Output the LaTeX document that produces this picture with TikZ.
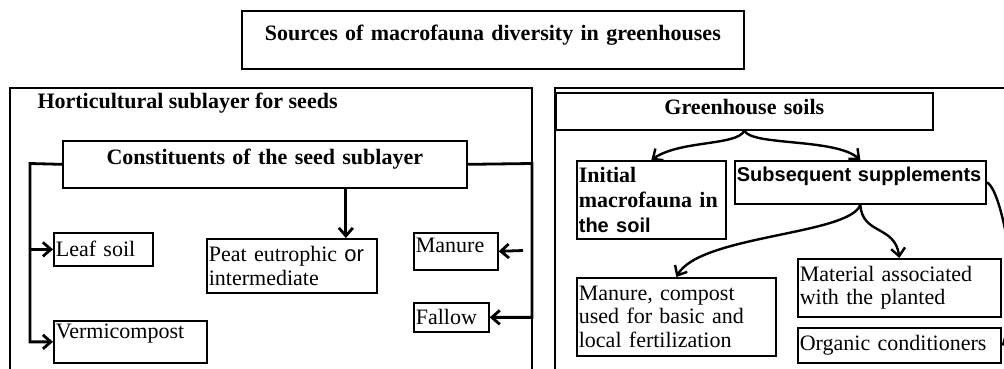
\documentclass[tikz,border=0pt]{standalone}
\usepackage{fontspec}
\setmainfont{Liberation Serif}
\setsansfont{Liberation Sans}
\usetikzlibrary{arrows.meta}
\tikzset{
  box/.style={draw, line width=1.7pt, anchor=north west, inner xsep=2pt, inner ysep=1pt, align=left, font=\fontsize{22}{23.5}\selectfont},
  headbox/.style={box, align=center, font=\fontsize{22}{25}\selectfont\bfseries},
  conn/.style={line width=2.8pt, ->},
  wave/.style={line width=2.4pt, ->},
  panel/.style={line width=1.7pt},
  >={Straight Barb[length=8pt,width=14pt]}
}
\begin{document}
\begin{tikzpicture}[x=1pt,y=-1pt]
\clip (0,0) rectangle (1004,369);
\node[headbox, text width=498pt, minimum height=58, text depth=14pt] (title) at (241,10) {Sources of macrofauna diversity in greenhouses};
\draw[panel] (10,375) -- (10,88) -- (532,88) -- (532,375);
\draw[panel] (555,375) -- (555,88) -- (1010,88);
\node[anchor=west, font=\fontsize{22}{25}\selectfont\bfseries] (hort) at (34,103) {Horticultural sublayer for seeds};
\node[headbox, text width=400pt, minimum height=47, text depth=15pt] (constit) at (62,140) {Constituents of the seed sublayer};
\node[box, text width=95pt, minimum height=33] (leaf) at (53,232) {Leaf soil};
\node[box, text width=166pt, minimum height=54] (peat) at (206,238) {Peat eutrophic {\sffamily or}\\intermediate};
\node[box, text width=80pt, minimum height=37, text depth=13pt] (manure) at (413,232) {Manure};
\node[box, text width=71pt, minimum height=29] (fallow) at (413,302) {Fallow};
\node[box, text width=149pt, minimum height=42, text depth=22pt] (vermi) at (53,320) {Vermicompost};
\coordinate (lbar) at (30,163.5);
\draw[conn] (constit.west) -- (lbar) |- (vermi.west);
\draw[conn] (lbar |- leaf.west) -- (leaf.west);
\coordinate (rbar) at (532,163.5);
\draw[conn] (constit.east) -- (rbar) |- (fallow.east);
\coordinate (mstub) at (523,250.5);
\draw[conn] (mstub) -- (manure.east);
\draw[conn] ([xshift=81pt]constit.south) -- ([xshift=54pt]peat.north);
\node[headbox, text width=373pt, minimum height=37, text depth=9pt] (soils) at (555,92) {Greenhouse soils};
\node[box, text width=145pt, minimum height=78, font=\fontsize{22}{25}\selectfont\bfseries] (initial) at (576,160) {Initial\\macrofauna in\\{\sffamily\fontsize{20}{25}\selectfont the soil}};
\node[box, text width=247pt, minimum height=43, text depth=17pt, font=\fontsize{20}{23}\selectfont\sffamily\bfseries] (subseq) at (734,160) {Subsequent supplements};
\node[box, text width=195pt, minimum height=78] (manurecomp) at (576,277) {Manure, compost\\used for basic and\\local fertilization};
\node[box, text width=199pt, minimum height=58] (material) at (797,258) {Material associated\\with the planted};
\node[box, text width=199pt, minimum height=35] (organic) at (797,327) {Organic conditioners};
\draw[wave] (soils.south) .. controls (737,146) and (680,140) .. (initial.north);
\draw[wave] (soils.south) .. controls (752,146) and (835,138) .. (subseq.north);
\draw[wave] (subseq.south) .. controls (850,235) and (700,235) .. (manurecomp.north);
\draw[wave] (subseq.south) .. controls (862,235) and (895,225) .. (material.north);
\draw[wave] (subseq.east) .. controls (1005,190) and (1025,330) .. (organic.east);
\end{tikzpicture}
\end{document}
